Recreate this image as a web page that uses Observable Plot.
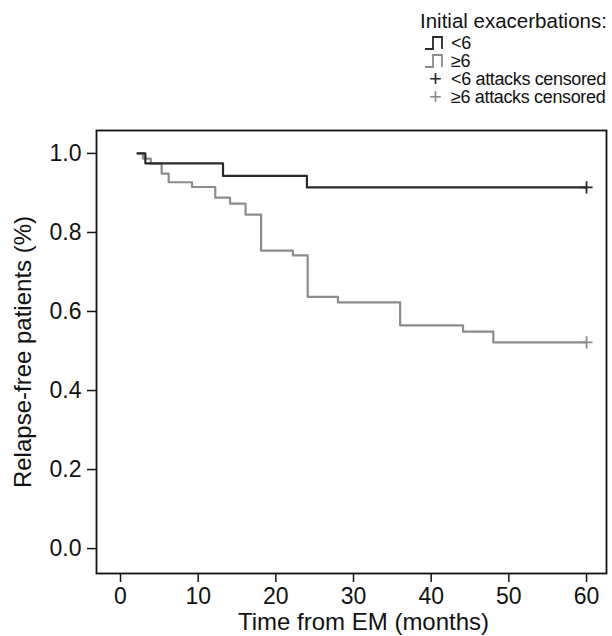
<!DOCTYPE html>
<html>
<head>
<meta charset="utf-8">
<script src="https://cdn.jsdelivr.net/npm/d3@7"></script>
<script src="https://cdn.jsdelivr.net/npm/@observablehq/plot@0.6"></script>
<style>
  html, body { margin: 0; padding: 0; background: #fff; }
  #wrap { position: relative; width: 612px; height: 636px; font-family: "Liberation Sans", Arial, Helvetica, sans-serif; }
  #legend { position: absolute; left: 420px; top: 8px; color: #111; z-index: 2; }
  #legend .title { font-size: 20.5px; line-height: 26px; white-space: nowrap; }
  #legend .row { display: flex; align-items: center; white-space: nowrap; font-size: 18px; line-height: 18px; letter-spacing: -0.35px; }
  #legend .sym { width: 31px; display: inline-flex; justify-content: center; letter-spacing: 0; }
</style>
</head>
<body>
<div id="wrap"><div id="legend"></div></div>
<script>
// ---- data ----
const monthsLt6 = [2.2, 3.2, 13.2, 24.0, 60];
const survLt6   = [1.0, 0.975, 0.943, 0.914, 0.914];
const monthsGe6 = [2.2, 2.9, 3.9, 5.3, 6.2, 9.2, 12.2, 14.1, 16.1, 18.1, 22.2, 24.1, 28.0, 36.0, 44.1, 48.0, 60];
const survGe6   = [1.0, 0.987, 0.974, 0.949, 0.927, 0.915, 0.888, 0.873, 0.845, 0.754, 0.742, 0.637, 0.623, 0.565, 0.549, 0.522, 0.522];
const censoredMonths = [60, 60];
const censoredSurv   = [0.914, 0.522];
const censoredGroup  = ["<6", "≥6"];
const xTicks = [0, 10, 20, 30, 40, 50, 60];
const yTicks = [0, 0.2, 0.4, 0.6, 0.8, 1.0];
const legendTitle = "Initial exacerbations:";
const legendLabels = ["<6", "≥6", "<6 attacks censored", "≥6 attacks censored"];

const colors = {"<6": "#2a2a2a", "≥6": "#8c8c8c"};

const lt6 = monthsLt6.map((m, i) => ({month: m, surv: survLt6[i], group: "<6"}));
const ge6 = monthsGe6.map((m, i) => ({month: m, surv: survGe6[i], group: "≥6"}));
const cens = censoredMonths.map((m, i) => ({month: m, surv: censoredSurv[i], group: censoredGroup[i]}));

const font = "Liberation Sans, Arial, Helvetica, sans-serif";

const chart = Plot.plot({
  width: 612,
  height: 636,
  marginLeft: 96,
  marginRight: 6,
  marginTop: 130,
  marginBottom: 63,
  style: {fontFamily: font, background: "#fff", color: "#111"},
  x: {domain: [-3.09, 62.57]},
  y: {domain: [-0.063, 1.058]},
  marks: [
    Plot.frame({stroke: "#111", strokeWidth: 1.8}),
    Plot.axisX({ticks: xTicks, tickSize: 9, tickPadding: 5, fontSize: 23, stroke: "#111", strokeWidth: 1.5,
      label: "Time from EM (months)", labelAnchor: "center", labelArrow: "none", labelOffset: 56}),
    Plot.axisY({ticks: yTicks, tickSize: 9, tickPadding: 6, fontSize: 23, stroke: "#111", strokeWidth: 1.5,
      tickFormat: d3.format(".1f"),
      label: "Relapse-free patients (%)", labelAnchor: "center", labelArrow: "none", labelOffset: 83}),
    Plot.line(ge6, {x: "month", y: "surv", curve: "step-after", stroke: colors["≥6"], strokeWidth: 2.2}),
    Plot.line(lt6, {x: "month", y: "surv", curve: "step-after", stroke: colors["<6"], strokeWidth: 2.2}),
    Plot.dot(cens, {x: "month", y: "surv", symbol: "plus", r: 4, stroke: d => colors[d.group], strokeWidth: 1.8})
  ]
});

chart.querySelectorAll("g[aria-label='x-axis label'] text, g[aria-label='y-axis label'] text").forEach(t => t.setAttribute("font-size", 24));
const xl = chart.querySelector("g[aria-label='x-axis label']");
if (xl) xl.setAttribute("transform", (xl.getAttribute("transform") || "") + " translate(12,0)");

document.getElementById("wrap").appendChild(chart);
chart.style.position = "absolute";
chart.style.left = "0px";
chart.style.top = "0px";

// legend
const lg = document.getElementById("legend");
const title = document.createElement("div");
title.className = "title";
title.textContent = legendTitle;
lg.appendChild(title);
function stepSym(color) {
  return `<svg width="24" height="16"><polyline points="1,14 9,14 9,2 18,2 18,14" fill="none" stroke="${color}" stroke-width="1.8"/></svg>`;
}
const syms = [stepSym(colors["<6"]), stepSym(colors["≥6"]),
  `<span style="color:${colors["<6"]};font-size:22px">+</span>`,
  `<span style="color:${colors["≥6"]};font-size:22px">+</span>`];
legendLabels.forEach((lab, i) => {
  const r = document.createElement("div");
  r.className = "row";
  r.innerHTML = `<span class="sym">${syms[i]}</span><span>${lab}</span>`;
  lg.appendChild(r);
});
</script>
</body>
</html>
